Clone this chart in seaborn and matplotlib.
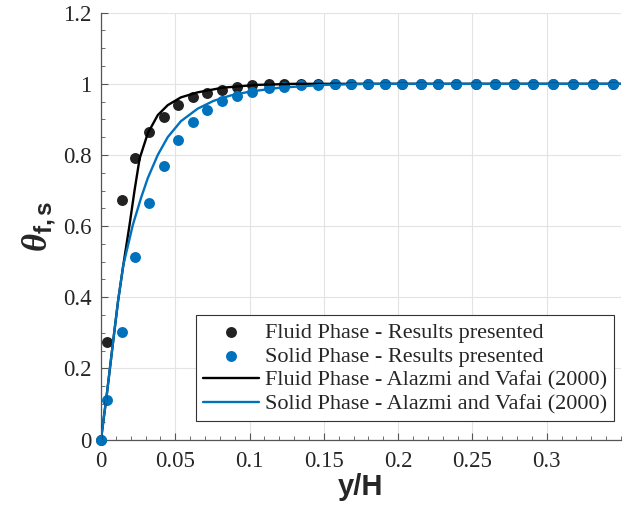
import numpy as np
import pandas as pd
import matplotlib
matplotlib.use("Agg")
import matplotlib.pyplot as plt
from matplotlib.ticker import MultipleLocator
import seaborn as sns

# ---- data ----
x_pts = [0, 0.0042, 0.0139, 0.0232, 0.0324, 0.0422, 0.0518, 0.0618, 0.0712, 0.0817,
         0.0918, 0.1018, 0.1132, 0.1232, 0.1344, 0.146, 0.1572, 0.1683, 0.1797, 0.1914,
         0.2029, 0.2152, 0.2271, 0.239, 0.2527, 0.2654, 0.2779, 0.2911, 0.304, 0.3175,
         0.3309, 0.3447]
fluid_pts = [0, 0.275, 0.673, 0.791, 0.864, 0.907, 0.940, 0.964, 0.975, 0.983,
             0.991, 0.997, 1.0, 1.0, 1.0, 1.0, 1.0, 1.0, 1.0, 1.0,
             1.0, 1.0, 1.0, 1.0, 1.0, 1.0, 1.0, 1.0, 1.0, 1.0, 1.0, 1.0]
solid_pts = [0, 0.111, 0.301, 0.514, 0.664, 0.769, 0.842, 0.893, 0.926, 0.952,
             0.966, 0.978, 0.988, 0.992, 0.996, 0.998, 1.0, 1.0, 1.0, 1.0,
             1.0, 1.0, 1.0, 1.0, 1.0, 1.0, 1.0, 1.0, 1.0, 1.0, 1.0, 1.0]

x_fluid_line = [0, 0.004, 0.008, 0.0115, 0.015, 0.0192, 0.0226, 0.026, 0.0315, 0.0382,
                0.0449, 0.0538, 0.065, 0.0817, 0.1043, 0.13, 0.35]
y_fluid_line = [0, 0.13, 0.27, 0.39, 0.49, 0.603, 0.701, 0.79, 0.861, 0.912,
                0.940, 0.962, 0.976, 0.989, 0.997, 1.0, 1.0]

x_solid_line = [0, 0.004, 0.008, 0.0115, 0.015, 0.0214, 0.027, 0.0315, 0.0382, 0.0449,
                0.0538, 0.065, 0.0757, 0.087, 0.1, 0.12, 0.15, 0.18, 0.35]
y_solid_line = [0, 0.13, 0.27, 0.39, 0.49, 0.603, 0.68, 0.735, 0.80, 0.85,
                0.895, 0.93, 0.952, 0.967, 0.978, 0.989, 0.997, 1.0, 1.0]

x_ticks = [0, 0.05, 0.1, 0.15, 0.2, 0.25, 0.3]
x_tick_labels = ["0", "0.05", "0.1", "0.15", "0.2", "0.25", "0.3"]
y_ticks = [0, 0.2, 0.4, 0.6, 0.8, 1.0, 1.2]
y_tick_labels = ["0", "0.2", "0.4", "0.6", "0.8", "1", "1.2"]

labels = ["Fluid Phase - Results presented",
          "Solid Phase - Results presented",
          "Fluid Phase - Alazmi and Vafai (2000)",
          "Solid Phase - Alazmi and Vafai (2000)"]

# ---- style ----
sns.set_theme(style="whitegrid")
plt.rcParams["font.family"] = ["Liberation Serif", "DejaVu Serif"]
plt.rcParams["mathtext.fontset"] = "custom"
plt.rcParams["mathtext.it"] = "Liberation Serif:italic:bold"
plt.rcParams["mathtext.bf"] = "Liberation Sans:bold"
plt.rcParams["mathtext.rm"] = "Liberation Sans:bold"

BLACK = "#222222"
BLUE = "#0072BD"
SPINE = "#555555"

fig = plt.figure(figsize=(6.28, 5.15), dpi=100)
ax = fig.add_axes([101 / 628, 75.5 / 515, 520 / 628, 426.8 / 515])

df_f = pd.DataFrame({"x": x_pts, "y": fluid_pts})
df_s = pd.DataFrame({"x": x_pts, "y": solid_pts})
df_fl = pd.DataFrame({"x": x_fluid_line, "y": y_fluid_line})
df_sl = pd.DataFrame({"x": x_solid_line, "y": y_solid_line})

sns.scatterplot(data=df_f, x="x", y="y", ax=ax, color=BLACK, s=62,
                linewidth=0, label=labels[0], zorder=3, clip_on=False)
sns.scatterplot(data=df_s, x="x", y="y", ax=ax, color=BLUE, s=62,
                linewidth=0, label=labels[1], zorder=4, clip_on=False)
sns.lineplot(data=df_fl, x="x", y="y", ax=ax, color="black", lw=1.7,
             sort=False, estimator=None, label=labels[2], zorder=5)
sns.lineplot(data=df_sl, x="x", y="y", ax=ax, color=BLUE, lw=1.7,
             sort=False, estimator=None, label=labels[3], zorder=6)

ax.set_xlim(0, 0.35)
ax.set_ylim(0, 1.2)
ax.set_xticks(x_ticks)
ax.set_xticklabels(x_tick_labels)
ax.set_yticks(y_ticks)
ax.set_yticklabels(y_tick_labels)
ax.xaxis.set_minor_locator(MultipleLocator(0.01))
ax.yaxis.set_minor_locator(MultipleLocator(0.05))

ax.grid(True, which="major", color="#e3e3e3", lw=0.8)
ax.grid(False, which="minor")
ax.set_axisbelow(True)
ax.set_facecolor("white")

for side in ["top", "right"]:
    ax.spines[side].set_visible(False)
for side in ["left", "bottom"]:
    ax.spines[side].set_visible(True)
    ax.spines[side].set_color(SPINE)
    ax.spines[side].set_linewidth(0.9)

ax.tick_params(axis="both", which="major", direction="in", length=5, width=0.8,
               color=SPINE, labelsize=16.5, labelcolor="#262626",
               left=True, bottom=True)
ax.tick_params(axis="x", which="major", pad=8)
ax.tick_params(axis="y", which="major", pad=7)
ax.tick_params(axis="both", which="minor", direction="in", length=3, width=0.6,
               color=SPINE, left=True, bottom=True)

ax.set_xlabel("y/H", fontsize=21, fontweight="bold", family="Liberation Sans",
              color="#262626", labelpad=1)
ax.set_ylabel(r"$\theta_{\mathbf{f,s}}$", fontsize=25, color="#262626", labelpad=4)

leg = ax.legend(loc="lower right", bbox_to_anchor=(0.9865, 0.0433),
                borderaxespad=0, fontsize=16, frameon=True, fancybox=False,
                framealpha=1, edgecolor="#333333", handlelength=2.5,
                handletextpad=0.3, labelspacing=0.15, borderpad=0.3)
leg.get_frame().set_linewidth(0.8)

fig.savefig("out.png", dpi=100)
